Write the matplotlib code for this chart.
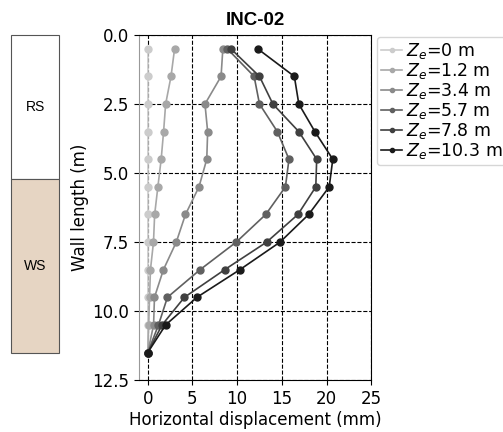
import matplotlib.pyplot as plt
import matplotlib.patches as patches
import numpy as np

depth = [0.5, 1.5, 2.5, 3.5, 4.5, 5.5, 6.5, 7.5, 8.5, 9.5, 10.5, 11.5]
stages = ['0', '1.2', '3.4', '5.7', '7.8', '10.3']
disp_ze0 = [0, 0, 0, 0, 0, 0, 0, 0, 0, 0, 0, 0]
disp_ze1 = [3.0, 2.6, 2.0, 1.77, 1.5, 1.13, 0.77, 0.64, 0.3, 0.2, 0.1, 0]
disp_ze3 = [8.4, 8.2, 6.4, 6.7, 6.6, 5.73, 4.22, 3.19, 1.75, 0.75, 0.65, 0]
disp_ze5 = [8.9, 11.9, 12.5, 14.5, 15.8, 15.4, 13.2, 9.9, 5.85, 2.2, 1.2, 0]
disp_ze7 = [9.3, 12.5, 14.0, 16.9, 18.9, 18.8, 16.8, 13.3, 8.6, 4.1, 1.6, 0]
disp_ze10 = [12.3, 16.4, 16.9, 18.7, 20.7, 20.3, 18.0, 14.8, 10.3, 5.5, 2.0, 0]
series = [disp_ze0, disp_ze1, disp_ze3, disp_ze5, disp_ze7, disp_ze10]
colors = ['#cccccc', '#a8a8a8', '#8a8a8a', '#606060', '#404040', '#1a1a1a']

soil_layers = ['RS', 'WS']
layer_top = [0, 5.23]
layer_bot = [5.23, 11.5]
layer_fill = ['white', '#e6d5c3']

fig = plt.figure(figsize=(5.03, 4.32), dpi=100)
ax = fig.add_axes([0.276, 0.12, 0.462, 0.799])

for d, c, s in zip(series, colors, stages):
    ax.plot(d, depth, '-o', color=c, markersize=5, linewidth=1.2,
            label=r'$Z_e$=' + s + ' m')

ax.set_xlim(-1, 25)
ax.set_ylim(12.5, 0)
ax.set_xticks([0, 5, 10, 15, 20, 25])
ax.set_yticks([0, 2.5, 5.0, 7.5, 10.0, 12.5])
ax.tick_params(labelsize=12)
ax.grid(True, linestyle='--', color='black', linewidth=0.8)
ax.spines['left'].set_color('#999999')
ax.set_xlabel('Horizontal displacement (mm)', fontsize=12, labelpad=2)
ax.set_ylabel('Wall length (m)', fontsize=12, labelpad=2)
ax.set_title('INC-02', fontsize=13.5, fontweight='bold', family='Liberation Sans', pad=7)
ax.legend(loc='upper left', bbox_to_anchor=(1.01, 1.005), fontsize=12.5,
          handlelength=1.2, handletextpad=0.2, borderpad=0.25,
          labelspacing=0.0, borderaxespad=0.2, markerscale=0.6)

# soil column
sax = fig.add_axes([0.022, 0.12, 0.096, 0.799])
sax.set_xlim(0, 1)
sax.set_ylim(12.5, 0)
sax.axis('off')
for name, t, b, f in zip(soil_layers, layer_top, layer_bot, layer_fill):
    sax.add_patch(patches.Rectangle((0, t), 1, b - t, facecolor=f,
                                    edgecolor='#555555', linewidth=0.8, clip_on=False))
    sax.text(0.5, (t + b) / 2, name, ha='center', va='center', fontsize=10,
             family='Liberation Sans')

fig.savefig('out.png', dpi=100)
